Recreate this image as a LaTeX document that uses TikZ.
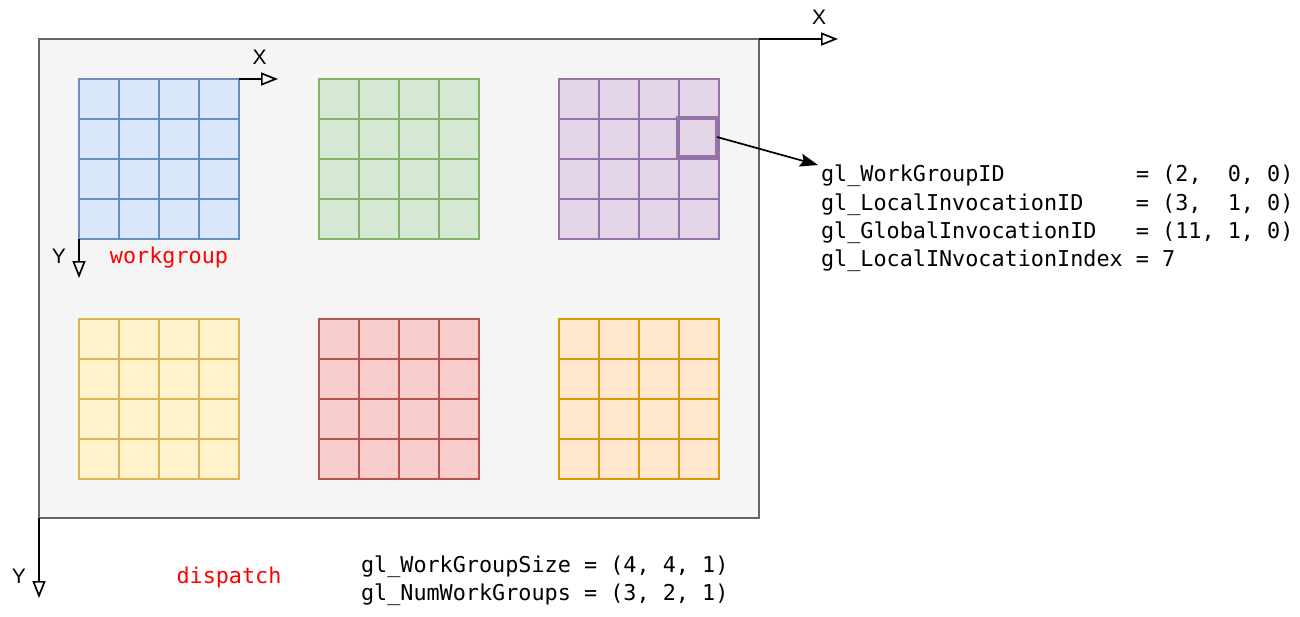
\documentclass[tikz,border=0pt]{standalone}
\usepackage{fontspec}
\setmainfont{Liberation Sans}
\newfontfamily\codefont{DejaVu Sans Mono}
\usetikzlibrary{arrows.meta}
\definecolor{dispFill}{HTML}{F5F5F5}
\definecolor{dispLine}{HTML}{666666}
\definecolor{blueFill}{HTML}{DAE8FC}
\definecolor{blueLine}{HTML}{6C8EBF}
\definecolor{greenFill}{HTML}{D5E8D4}
\definecolor{greenLine}{HTML}{82B366}
\definecolor{purpleFill}{HTML}{E1D5E7}
\definecolor{purpleLine}{HTML}{9673A6}
\definecolor{yellowFill}{HTML}{FFF2CC}
\definecolor{yellowLine}{HTML}{D6B656}
\definecolor{redFill}{HTML}{F8CECC}
\definecolor{redLine}{HTML}{B85450}
\definecolor{orangeFill}{HTML}{FFE6CC}
\definecolor{orangeLine}{HTML}{D79B00}

\begin{document}
\begin{tikzpicture}[x=1pt,y=1pt,line width=1.5pt,
    every node/.style={inner sep=0pt,outer sep=0pt},
    wgbox/.style 2 args={draw=#2,fill=#1,minimum size=160pt,anchor=south west},
    axis/.style={-{Triangle[open,length=17pt,width=13pt]},black,line width=1.7pt},
    axislabel/.style={anchor=base,font=\fontsize{21}{24}\selectfont},
    code/.style={anchor=base west,font=\codefont\fontsize{21.8}{28}\selectfont},
    note/.style={anchor=base,text=red,font=\codefont\fontsize{21.8}{28}\selectfont}]
      \useasboundingbox (1,-1) rectangle (1301,-617);
      \node[draw=dispLine,fill=dispFill,minimum width=720pt,minimum height=479pt,anchor=north west] (dispatch) at (40,-40) {};
      \node[wgbox={blueFill}{blueLine}] (wgBlue) at (80,-240) {};
      \draw[blueLine] (wgBlue.south west) grid[step=40] (wgBlue.north east);
      \node[wgbox={greenFill}{greenLine}] (wgGreen) at (320,-240) {};
      \draw[greenLine] (wgGreen.south west) grid[step=40] (wgGreen.north east);
      \node[wgbox={purpleFill}{purpleLine}] (wgPurple) at (560,-240) {};
      \draw[purpleLine] (wgPurple.south west) grid[step=40] (wgPurple.north east);
      \node[wgbox={yellowFill}{yellowLine}] (wgYellow) at (80,-480) {};
      \draw[yellowLine] (wgYellow.south west) grid[step=40] (wgYellow.north east);
      \node[wgbox={redFill}{redLine}] (wgRed) at (320,-480) {};
      \draw[redLine] (wgRed.south west) grid[step=40] (wgRed.north east);
      \node[wgbox={orangeFill}{orangeLine}] (wgOrange) at (560,-480) {};
      \draw[orangeLine] (wgOrange.south west) grid[step=40] (wgOrange.north east);
      \node[draw=purpleLine,line width=3.5pt,minimum size=39pt] (hlCell) at (698.5,-138) {};
      \coordinate (wgX) at (279,-80);
      \coordinate (wgY) at (80,-279);
      \draw[axis] (wgBlue.north east) -- (wgX);
      \draw[axis] (wgBlue.south west) -- (wgY);
      \node[axislabel] (wgXlabel) at (260.5,-65) {X};
      \node[axislabel] (wgYlabel) at (60,-264.3) {Y};
      \node[note] (wgLabel) at (170,-264.3) {workgroup};
      \coordinate (dispX) at (839,-40);
      \coordinate (dispY) at (40,-599);
      \draw[axis] (dispatch.north east) -- (dispX);
      \draw[axis] (dispatch.south west) -- (dispY);
      \node[axislabel] (dispXlabel) at (820,-25) {X};
      \node[axislabel] (dispYlabel) at (20,-584.3) {Y};
      \node[note] (dispLabel) at (230,-584.3) {dispatch};
      \node[code] (idWG) at (822,-182.7) {gl\_WorkGroupID~~~~~~~~~~= (2,~~0, 0)};
      \node[code] (idLocal) at (822,-211) {gl\_LocalInvocationID~~~~= (3,~~1, 0)};
      \node[code] (idGlobal) at (822,-239.3) {gl\_GlobalInvocationID~~~= (11, 1, 0)};
      \node[code] (idIndex) at (822,-267.7) {gl\_LocalINvocationIndex = 7};
      \coordinate (idTip) at (819,-166);
      \draw[-{Stealth[length=18pt,width=13pt,inset=3pt]},line width=1.7pt] (hlCell.east) -- (idTip);
      \node[code] (wgSize) at (362,-573) {gl\_WorkGroupSize = (4, 4, 1)};
      \node[code] (numWG) at (362,-601) {gl\_NumWorkGroups = (3, 2, 1)};
\end{tikzpicture}
\end{document}
